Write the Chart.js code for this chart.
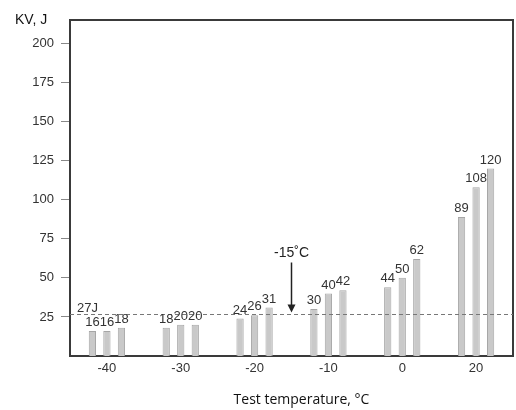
<!DOCTYPE html>
<html>
<head>
<meta charset="utf-8">
<script src="https://cdn.jsdelivr.net/npm/chart.js@4/dist/chart.umd.min.js"></script>
<style>
html,body{margin:0;padding:0;background:#fff;}
canvas{display:block;}
</style>
</head>
<body>
<canvas id="c" width="516" height="410"></canvas>
<script>
// ---- data ----
const temperatures = ['-40', '-30', '-20', '-10', '0', '20'];
const test1 = [16, 18, 24, 30, 44, 89];
const test2 = [16, 20, 26, 40, 50, 108];
const test3 = [18, 20, 31, 42, 62, 120];
const yTicks = [25, 50, 75, 100, 125, 150, 175, 200];
const requiredEnergy = 27;           // dashed line "27J"
const requiredEnergyLabel = '27J';
const markerTemp = -15;              // arrow "-15˚C" between -20 and -10
const markerLabel = '-15˚C';
const yTitle = 'KV, J';
const xTitle = 'Test temperature, °C';

const FONT = '"Liberation Sans", Arial, sans-serif';

const barStyle = {
  backgroundColor: '#c9c9c9',
  borderColor: '#a6a6a6',
  borderWidth: 1,
  categoryPercentage: 0.59,
  barPercentage: 0.5
};

const decorPlugin = {
  id: 'decor',
  afterDatasetsDraw(chart) {
    const ctx = chart.ctx;
    const ca = chart.chartArea;
    const x = chart.scales.x, y = chart.scales.y;
    ctx.save();
    // frame top/right
    ctx.strokeStyle = '#3a3a3a';
    ctx.lineWidth = 2;
    ctx.beginPath();
    ctx.moveTo(ca.left, ca.top);
    ctx.lineTo(ca.right, ca.top);
    ctx.lineTo(ca.right, ca.bottom);
    ctx.stroke();

    // reference dashed line
    const ly = Math.round(y.getPixelForValue(requiredEnergy)) + 0.5;
    ctx.strokeStyle = '#777';
    ctx.lineWidth = 1;
    ctx.setLineDash([4, 3]);
    ctx.beginPath();
    ctx.moveTo(ca.left, ly);
    ctx.lineTo(ca.right, ly);
    ctx.stroke();
    ctx.setLineDash([]);

    ctx.fillStyle = '#333';
    ctx.font = '13px ' + FONT;
    ctx.textAlign = 'left';
    ctx.textBaseline = 'alphabetic';
    ctx.fillText(requiredEnergyLabel, ca.left + 7, ly - 3);

    // arrow at -15 (midway between -20 and -10 categories)
    const i20 = temperatures.indexOf('-20'), i10 = temperatures.indexOf('-10');
    const frac = (markerTemp - (-20)) / ((-10) - (-20));
    const ax = x.getPixelForValue(i20 + (i10 - i20) * frac);
    ctx.strokeStyle = '#222';
    ctx.fillStyle = '#222';
    ctx.lineWidth = 1.5;
    ctx.beginPath();
    ctx.moveTo(ax, ly - 52);
    ctx.lineTo(ax, ly - 8);
    ctx.stroke();
    ctx.beginPath();
    ctx.moveTo(ax - 4, ly - 10);
    ctx.lineTo(ax + 4, ly - 10);
    ctx.lineTo(ax, ly - 2);
    ctx.closePath();
    ctx.fill();
    ctx.font = '14px ' + FONT;
    ctx.textAlign = 'center';
    ctx.fillStyle = '#222';
    ctx.fillText(markerLabel, ax, ly - 58);

    // value labels above bars
    ctx.font = '13px ' + FONT;
    ctx.fillStyle = '#333';
    ctx.textAlign = 'center';
    ctx.textBaseline = 'bottom';
    chart.data.datasets.forEach((ds, di) => {
      const meta = chart.getDatasetMeta(di);
      meta.data.forEach((bar, i) => {
        ctx.fillText(String(ds.data[i]), bar.x, bar.y - 2);
      });
    });

    // axis titles
    ctx.fillStyle = '#111';
    ctx.font = '14px ' + FONT;
    ctx.textAlign = 'left';
    ctx.textBaseline = 'middle';
    ctx.fillText(yTitle, 15, 20);
    ctx.font = '14px "Open Sans", sans-serif';
    ctx.textAlign = 'center';
    ctx.fillStyle = '#111';
    ctx.fillText(xTitle, (ca.left + ca.right) / 2 + 10, 400);
    ctx.restore();
  }
};

new Chart(document.getElementById('c'), {
  type: 'bar',
  data: {
    labels: temperatures,
    datasets: [
      Object.assign({ label: 'Specimen 1', data: test1 }, barStyle),
      Object.assign({ label: 'Specimen 2', data: test2 }, barStyle),
      Object.assign({ label: 'Specimen 3', data: test3 }, barStyle)
    ]
  },
  options: {
    responsive: false,
    animation: false,
    layout: { padding: { top: 20, right: 3, left: 0, bottom: 0 } },
    plugins: { legend: { display: false }, tooltip: { enabled: false } },
    scales: {
      x: {
        afterFit(s) { s.height = 54; },
        grid: { display: false, drawTicks: false },
        border: { display: true, color: '#3a3a3a', width: 2 },
        ticks: { color: '#333', font: { size: 13, family: FONT }, padding: 5 }
      },
      y: {
        min: 0,
        max: 215,
        afterFit(s) { s.width = 70; },
        afterBuildTicks(s) { s.ticks = yTicks.map(v => ({ value: v })); },
        grid: { display: true, drawOnChartArea: false, drawTicks: true, tickLength: 9, color: '#888' },
        border: { display: true, color: '#3a3a3a', width: 2 },
        ticks: { color: '#333', font: { size: 13, family: FONT }, padding: 7 }
      }
    }
  },
  plugins: [decorPlugin]
});
</script>
</body>
</html>
